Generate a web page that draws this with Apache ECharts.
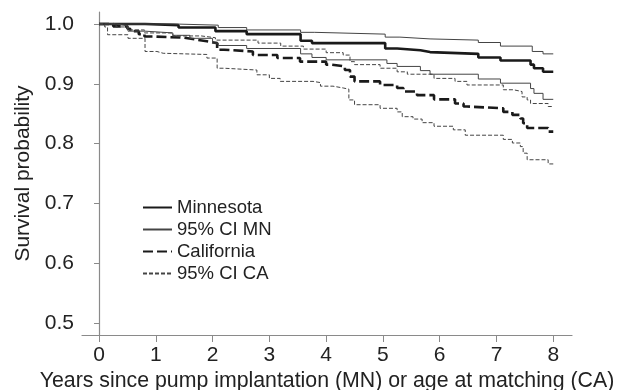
<!DOCTYPE html>
<html>
<head>
<meta charset="utf-8">
<script src="https://cdn.jsdelivr.net/npm/echarts@6/dist/echarts.min.js"></script>
<style>
  html, body { margin: 0; padding: 0; background: #fff; }
  #chart { width: 620px; height: 390px; }
</style>
</head>
<body>
<div id="chart"></div>
<script>
// Kaplan-Meier step points [years, survival]
const mnEstimate = [[0, 1.0], [0.81, 0.998], [1.4, 0.994], [2.05, 0.988], [2.6, 0.983], [3.55, 0.972], [3.75, 0.968], [5.04, 0.959], [5.25, 0.956], [5.66, 0.953], [5.83, 0.95], [6.68, 0.944], [7.07, 0.939], [7.6, 0.932], [7.66, 0.926], [7.82, 0.92], [8.0, 0.92]];
const mnUpper = [[0, 1.0], [1.3, 0.998], [2.1, 0.994], [2.6, 0.99], [3.55, 0.986], [3.8, 0.983], [5.04, 0.978], [5.3, 0.975], [5.83, 0.973], [6.68, 0.969], [7.07, 0.963], [7.63, 0.954], [7.82, 0.95], [8.0, 0.95]];
const mnLower = [[0, 1.0], [0.3, 0.997], [0.51, 0.988], [0.81, 0.985], [1.3, 0.981], [1.6, 0.976], [2.0, 0.968], [2.1, 0.964], [2.6, 0.959], [3.55, 0.95], [3.75, 0.944], [4.0, 0.94], [5.07, 0.934], [5.25, 0.929], [5.66, 0.922], [5.83, 0.916], [6.68, 0.908], [7.07, 0.901], [7.6, 0.892], [7.66, 0.884], [7.82, 0.874], [8.0, 0.874]];
const caEstimate = [[0, 1.0], [0.25, 0.996], [0.5, 0.992], [0.55, 0.988], [0.7, 0.983], [0.8, 0.979], [0.96, 0.977], [1.5, 0.974], [1.7, 0.971], [1.9, 0.968], [2.08, 0.957], [2.2, 0.954], [2.71, 0.948], [3.14, 0.943], [3.54, 0.937], [4.0, 0.932], [4.1, 0.929], [4.33, 0.923], [4.42, 0.912], [4.5, 0.904], [4.95, 0.898], [5.25, 0.893], [5.36, 0.887], [5.6, 0.881], [5.9, 0.874], [6.27, 0.867], [6.42, 0.862], [6.48, 0.859], [7.12, 0.853], [7.28, 0.848], [7.42, 0.842], [7.47, 0.834], [7.54, 0.826], [7.91, 0.82], [8.0, 0.82]];
const caUpper = [[0, 1.0], [0.3, 0.995], [0.5, 0.99], [0.8, 0.985], [1.3, 0.98], [1.8, 0.977], [2.05, 0.973], [2.8, 0.968], [3.2, 0.963], [3.6, 0.958], [4.0, 0.952], [4.3, 0.948], [4.42, 0.937], [4.5, 0.932], [4.95, 0.926], [5.25, 0.92], [5.43, 0.916], [5.9, 0.909], [6.27, 0.904], [6.48, 0.898], [7.12, 0.89], [7.3, 0.887], [7.45, 0.878], [7.54, 0.873], [7.6, 0.867], [7.91, 0.862], [8.0, 0.862]];
const caLower = [[0, 1.0], [0.1, 0.995], [0.15, 0.982], [0.51, 0.976], [0.81, 0.954], [1.02, 0.951], [1.13, 0.949], [1.9, 0.943], [2.08, 0.926], [2.2, 0.923], [2.78, 0.915], [3.0, 0.909], [3.19, 0.904], [3.77, 0.902], [3.9, 0.896], [4.12, 0.893], [4.3, 0.891], [4.4, 0.873], [4.5, 0.865], [4.95, 0.859], [5.25, 0.853], [5.34, 0.845], [5.53, 0.841], [5.69, 0.835], [5.9, 0.829], [6.24, 0.823], [6.45, 0.814], [7.12, 0.807], [7.28, 0.801], [7.42, 0.795], [7.47, 0.784], [7.54, 0.773], [7.91, 0.766], [8.0, 0.766]];

const xTicks = [0, 1, 2, 3, 4, 5, 6, 7, 8];
const yTicks = [0.5, 0.6, 0.7, 0.8, 0.9, 1.0];
const names = ['Minnesota', '95% CI MN', 'California', '95% CI CA'];

const FONT = '"Liberation Sans", Arial, sans-serif';
const axisGray = '#8a8a8a';

function stepSeries(name, data, width, color, dash) {
  return {
    name: name,
    type: 'line',
    step: 'end',
    data: data,
    symbol: 'none',
    animation: false,
    lineStyle: { width: width, color: color, type: dash },
    itemStyle: { color: color }
  };
}

const chart = echarts.init(document.getElementById('chart'), null, { renderer: 'canvas' });
chart.setOption({
  backgroundColor: '#fff',
  animation: false,
  textStyle: { fontFamily: FONT },
  grid: { left: 82, right: 48, top: 12, bottom: 55, outerBoundsMode: 'none', containLabel: false },
  legend: {
    orient: 'vertical',
    left: 137,
    top: 193,
    itemWidth: 29,
    itemHeight: 12,
    itemGap: 3,
    data: names,
    itemStyle: { opacity: 0 },
    textStyle: { fontFamily: FONT, fontSize: 18.5, lineHeight: 19, color: '#222' }
  },
  xAxis: {
    type: 'value',
    min: -0.3,
    max: 8.33,
    name: 'Years since pump implantation (MN) or age at matching (CA)',
    nameLocation: 'middle',
    nameGap: 36,
    nameTextStyle: { fontFamily: FONT, fontSize: 21.3, color: '#222' },
    axisLine: { show: true, lineStyle: { color: axisGray, width: 1.2 } },
    axisTick: { show: true, length: 7, customValues: xTicks, lineStyle: { color: axisGray } },
    axisLabel: { customValues: xTicks, margin: 10, fontSize: 21, color: '#222', fontFamily: FONT },
    splitLine: { show: false }
  },
  yAxis: {
    type: 'value',
    min: 0.48,
    max: 1.02,
    name: 'Survival probability',
    nameLocation: 'middle',
    nameGap: 47,
    nameTextStyle: { fontFamily: FONT, fontSize: 21, color: '#222' },
    axisLine: { show: true, lineStyle: { color: axisGray, width: 1.2 } },
    axisTick: { show: true, length: 5, customValues: yTicks, lineStyle: { color: axisGray } },
    axisLabel: {
      customValues: yTicks, margin: 8, fontSize: 21, color: '#222', fontFamily: FONT,
      formatter: function (v) { return v.toFixed(1); }
    },
    splitLine: { show: false }
  },
  series: [
    stepSeries(names[0], mnEstimate, 2.6, '#1a1a1a', 'solid'),
    stepSeries(names[1], mnUpper, 1, '#444', 'solid'),
    stepSeries(names[2], caEstimate, 2.6, '#1a1a1a', [10, 4]),
    stepSeries(names[3], caLower, 1, '#444', [4, 2]),
    stepSeries(names[1], mnLower, 1, '#444', 'solid'),
    stepSeries(names[3], caUpper, 1, '#444', [4, 2])
  ]
});
</script>
</body>
</html>
